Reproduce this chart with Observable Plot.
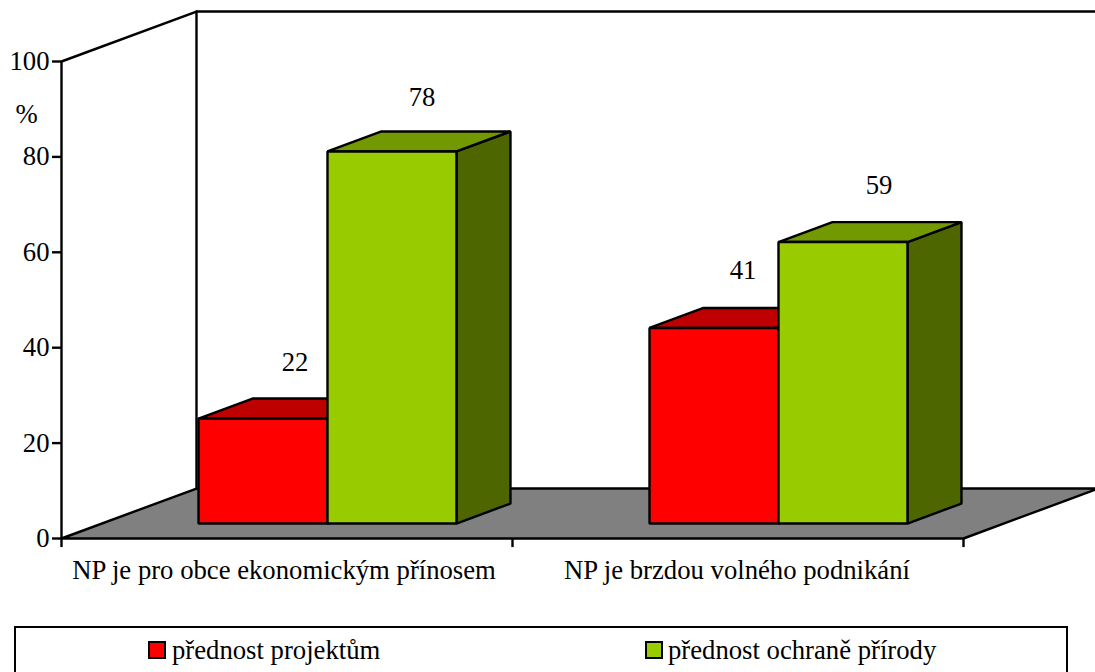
<!DOCTYPE html>
<html>
<head>
<meta charset="utf-8">
<script src="https://cdn.jsdelivr.net/npm/d3@7"></script>
<script src="https://cdn.jsdelivr.net/npm/@observablehq/plot@0.6"></script>
<style>
html,body{margin:0;padding:0;background:#fff;overflow:hidden}
#chart svg{display:block;max-width:none}
#legend{position:relative;box-sizing:border-box;margin-left:14px;width:1054px;height:46px;border:2px solid #000;border-bottom:none;font:26.7px "Liberation Serif",serif;color:#000}
#legend .sw{position:absolute;top:13px;width:14px;height:14px;border:2px solid #000}
#legend .tx{position:absolute;top:9px;line-height:26px;white-space:nowrap}
</style>
</head>
<body>
<div id="chart"></div>
<div id="legend"></div>
<script>
const categories = ["NP je pro obce ekonomickým přínosem", "NP je brzdou volného podnikání"];
const seriesNames = ["přednost projektům", "přednost ochraně přírody"];
const projekty = [22, 41];
const ochrana = [78, 59];
const yTicks = [0, 20, 40, 60, 80, 100];

const colors = [
  {front: "#ff0000", top: "#bf0000", side: "#800000"},
  {front: "#99cc00", top: "#739900", side: "#4d6600"}
];
const labelNudge = [[[1, 0], [-1, 2]], [[-2, -1], [5, -1]]];
const categoryNudge = [-3, -1];

// oblique projection: depth 0 (front) .. 1 (back wall), expressed in data units
const wallX = 0.2993, wallY = 10.48;
const P = (x, y, d = 0) => ({x: x + d * wallX, y: y + d * wallY});
const d0 = 0.3, d1 = 0.7, gap = 0.214, bw = 0.286;
const lw = 2.4, font = "Liberation Serif", fs = 26.7;
const face = (pts, fill) => Plot.line(pts, {x: "x", y: "y", fill, stroke: "#000", strokeWidth: lw, curve: "linear-closed", strokeLinejoin: "miter"});

const marks = [];
// floor
marks.push(face([P(0, 0), P(2, 0), P(2, 0, 1), P(0, 0, 1)], "#808080"));
// walls
marks.push(Plot.line([P(0, 100), P(0, 100, 1), P(2, 100, 1)], {x: "x", y: "y", stroke: "#000", strokeWidth: lw}));
marks.push(Plot.line([P(0, 0, 1), P(0, 100, 1)], {x: "x", y: "y", stroke: "#000", strokeWidth: lw}));
// axes
marks.push(Plot.ruleX([0], {y1: 0, y2: 100, stroke: "#000", strokeWidth: lw}));
marks.push(Plot.axisY(yTicks, {anchor: "left", x: 0, tickSize: 9, tickPadding: 3, label: null, fontSize: fs, fontFamily: font, tickFormat: d => d, fill: "#000", stroke: "#000", strokeWidth: lw}));
marks.push(Plot.ruleX([0, 1, 2], {y1: 0, y2: -1.9, stroke: "#000", strokeWidth: lw}));
// bars
categories.forEach((c, i) => {
  [projekty[i], ochrana[i]].forEach((v, s) => {
    const x0 = i + gap + s * bw, x1 = x0 + bw, col = colors[s];
    marks.push(face([P(x1, v, d0), P(x1, v, d1), P(x1, 0, d1), P(x1, 0, d0)], col.side));
    marks.push(face([P(x0, v, d0), P(x1, v, d0), P(x1, v, d1), P(x0, v, d1)], col.top));
    marks.push(face([P(x0, 0, d0), P(x1, 0, d0), P(x1, v, d0), P(x0, v, d0)], col.front));
    // value label
    const anchor = P(x0 + bw / 2, v, d0);
    const [nx, ny] = labelNudge[i][s];
    marks.push(Plot.text([v], {x: () => anchor.x, y: () => anchor.y, text: d => String(d), dx: 31 + nx, dy: -56 + ny, fontSize: fs, fontFamily: font, fill: "#000", lineAnchor: "middle"}));
  });
});
// percent sign
marks.push(Plot.text(["%"], {x: () => 0, y: () => 100, dx: -35, dy: 53, fontSize: fs, fontFamily: font, fill: "#000", lineAnchor: "middle"}));
// category labels
categories.forEach((c, i) => {
  marks.push(Plot.text([c], {x: () => i + 0.5, y: () => 0, dy: 32, dx: categoryNudge[i], fontSize: fs, fontFamily: font, fill: "#000", lineAnchor: "middle"}));
});

const chart = Plot.plot({
  width: 1095, height: 626, margin: 0,
  style: {background: "#fff", overflow: "visible"},
  x: {type: "linear", domain: [0, 2], range: [61, 963], axis: null},
  y: {type: "linear", domain: [0, 100], range: [538, 61], axis: null},
  marks
});
document.getElementById("chart").appendChild(chart);

const legend = document.getElementById("legend");
const swLeft = [132, 629], txLeft = [156, 652];
seriesNames.forEach((n, i) => {
  const sw = document.createElement("span");
  sw.className = "sw"; sw.style.left = swLeft[i] + "px"; sw.style.background = colors[i].front;
  const tx = document.createElement("span");
  tx.className = "tx"; tx.style.left = txLeft[i] + "px"; tx.textContent = n;
  legend.append(sw, tx);
});
</script>
</body>
</html>
